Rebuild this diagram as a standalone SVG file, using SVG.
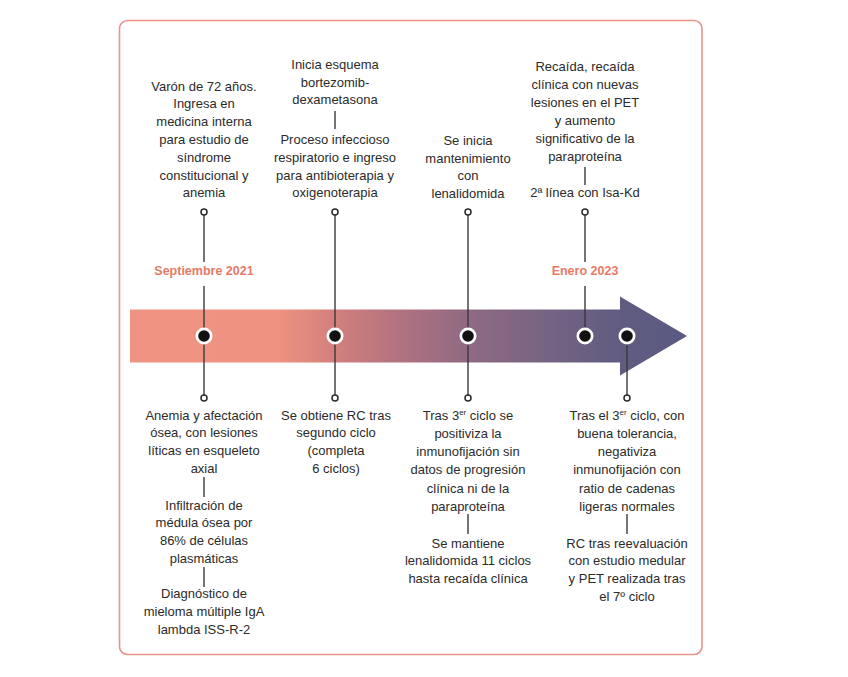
<svg xmlns="http://www.w3.org/2000/svg" width="848" height="677" viewBox="0 0 848 677">
<defs>
<linearGradient id="arrowGrad" gradientUnits="userSpaceOnUse" x1="130" y1="0" x2="688" y2="0">
<stop offset="0" stop-color="#ef9482"/>
<stop offset="0.264" stop-color="#ee9281"/>
<stop offset="0.367" stop-color="#d2807d"/>
<stop offset="0.484" stop-color="#b1727f"/>
<stop offset="0.606" stop-color="#8f6a83"/>
<stop offset="0.735" stop-color="#786483"/>
<stop offset="0.878" stop-color="#605c80"/>
<stop offset="1" stop-color="#5a5a80"/>
</linearGradient>
<style>
.t{font-family:"Liberation Sans",Arial,sans-serif;font-size:13px;fill:#2b2b2b;text-anchor:middle}
.d{font-family:"Liberation Sans",Arial,sans-serif;font-size:12.5px;font-weight:bold;fill:#e77a66;text-anchor:middle}
.sup{font-size:8px}
.ln{stroke:#3a3a3a;stroke-width:1.4;fill:none}
.sc{fill:#fff;stroke:#2b2b2b;stroke-width:1.5}
.dotw{fill:#fff}
.dotb{fill:#111}
</style>
</defs>
<rect x="0" y="0" width="848" height="677" fill="#fff"/>
<rect id="frame" x="119.5" y="20.5" width="582.5" height="634" rx="8" ry="8" fill="#fff" stroke="#e8948a" stroke-width="1.6"/>

<g id="arrow">
<path d="M130,309.5 L620,309.5 L620,296.5 L687,336 L620,375.5 L620,362.5 L130,362.5 Z" fill="url(#arrowGrad)"/>
</g>

<g id="connectors">
<line class="ln" x1="204" y1="215" x2="204" y2="262"/>
<line class="ln" x1="204" y1="286" x2="204" y2="336"/>
<line class="ln" x1="204" y1="336" x2="204" y2="395"/>
<line class="ln" x1="335" y1="215" x2="335" y2="336"/>
<line class="ln" x1="335" y1="336" x2="335" y2="395"/>
<line class="ln" x1="468" y1="215" x2="468" y2="336"/>
<line class="ln" x1="468" y1="336" x2="468" y2="395"/>
<line class="ln" x1="585" y1="215" x2="585" y2="262"/>
<line class="ln" x1="585" y1="286" x2="585" y2="336"/>
<line class="ln" x1="627" y1="336" x2="627" y2="395"/>
<line class="ln" x1="335" y1="111" x2="335" y2="129"/>
<line class="ln" x1="585" y1="167" x2="585" y2="185"/>
<line class="ln" x1="204" y1="477" x2="204" y2="497"/>
<line class="ln" x1="204" y1="567" x2="204" y2="587"/>
<line class="ln" x1="468" y1="514" x2="468" y2="534"/>
<line class="ln" x1="627" y1="514" x2="627" y2="534"/>
<circle class="sc" cx="204" cy="212" r="3"/>
<circle class="sc" cx="335" cy="212" r="3"/>
<circle class="sc" cx="468" cy="212" r="3"/>
<circle class="sc" cx="585" cy="212" r="3"/>
<circle class="sc" cx="204" cy="398" r="3"/>
<circle class="sc" cx="335" cy="398" r="3"/>
<circle class="sc" cx="468" cy="398" r="3"/>
<circle class="sc" cx="627" cy="398" r="3"/>
</g>

<g id="dot-1"><circle class="dotw" cx="204" cy="336" r="8.5"/><circle class="dotb" cx="204" cy="336" r="5.8"/></g>
<g id="dot-2"><circle class="dotw" cx="335" cy="336" r="8.5"/><circle class="dotb" cx="335" cy="336" r="5.8"/></g>
<g id="dot-3"><circle class="dotw" cx="468" cy="336" r="8.5"/><circle class="dotb" cx="468" cy="336" r="5.8"/></g>
<g id="dot-4"><circle class="dotw" cx="585" cy="336" r="8.5"/><circle class="dotb" cx="585" cy="336" r="5.8"/></g>
<g id="dot-5"><circle class="dotw" cx="627" cy="336" r="8.5"/><circle class="dotb" cx="627" cy="336" r="5.8"/></g>

<g id="date-sep2021"><text class="d" x="204" y="275">Septiembre 2021</text></g>
<g id="date-ene2023"><text class="d" x="585" y="275">Enero 2023</text></g>

<g id="top-1">
<text class="t" x="204" y="90.5">Varón de 72 años.</text>
<text class="t" x="204" y="108.3">Ingresa en</text>
<text class="t" x="204" y="126.1">medicina interna</text>
<text class="t" x="204" y="143.9">para estudio de</text>
<text class="t" x="204" y="161.7">síndrome</text>
<text class="t" x="204" y="179.5">constitucional y</text>
<text class="t" x="204" y="197.3">anemia</text>
</g>

<g id="top-2a">
<text class="t" x="335" y="68.8">Inicia esquema</text>
<text class="t" x="335" y="86.6">bortezomib-</text>
<text class="t" x="335" y="104.4">dexametasona</text>
</g>
<g id="top-2b">
<text class="t" x="335" y="144">Proceso infeccioso</text>
<text class="t" x="335" y="161.8">respiratorio e ingreso</text>
<text class="t" x="335" y="179.6">para antibioterapia y</text>
<text class="t" x="335" y="197.4">oxigenoterapia</text>
</g>

<g id="top-3">
<text class="t" x="468" y="145">Se inicia</text>
<text class="t" x="468" y="162.5">mantenimiento</text>
<text class="t" x="468" y="180">con</text>
<text class="t" x="468" y="197.5">lenalidomida</text>
</g>

<g id="top-4a">
<text class="t" x="585" y="71.2">Recaída, recaída</text>
<text class="t" x="585" y="89.2">clínica con nuevas</text>
<text class="t" x="585" y="107.2">lesiones en el PET</text>
<text class="t" x="585" y="125.2">y aumento</text>
<text class="t" x="585" y="143.2">significativo de la</text>
<text class="t" x="585" y="161.2">paraproteína</text>
</g>
<g id="top-4b">
<text class="t" x="585" y="197">2ª línea con Isa-Kd</text>
</g>

<g id="bottom-1a">
<text class="t" x="204" y="419.5">Anemia y afectación</text>
<text class="t" x="204" y="437.3">ósea, con lesiones</text>
<text class="t" x="204" y="455.1">líticas en esqueleto</text>
<text class="t" x="204" y="472.9">axial</text>
</g>
<g id="bottom-1b">
<text class="t" x="204" y="509.5">Infiltración de</text>
<text class="t" x="204" y="527.3">médula ósea por</text>
<text class="t" x="204" y="545.1">86% de células</text>
<text class="t" x="204" y="562.9">plasmáticas</text>
</g>
<g id="bottom-1c">
<text class="t" x="204" y="598">Diagnóstico de</text>
<text class="t" x="204" y="615.8">mieloma múltiple IgA</text>
<text class="t" x="204" y="633.6">lambda ISS-R-2</text>
</g>

<g id="bottom-2">
<text class="t" x="336" y="419.5">Se obtiene RC tras</text>
<text class="t" x="336" y="437.3">segundo ciclo</text>
<text class="t" x="336" y="455.1">(completa</text>
<text class="t" x="336" y="472.9">6 ciclos)</text>
</g>

<g id="bottom-3a">
<text class="t" x="468" y="419.5">Tras 3<tspan class="sup" dy="-4.5">er</tspan><tspan dy="4.5"> ciclo se</tspan></text>
<text class="t" x="468" y="437.8">positiviza la</text>
<text class="t" x="468" y="456.1">inmunofijación sin</text>
<text class="t" x="468" y="474.4">datos de progresión</text>
<text class="t" x="468" y="492.7">clínica ni de la</text>
<text class="t" x="468" y="511">paraproteína</text>
</g>
<g id="bottom-3b">
<text class="t" x="468" y="547.5">Se mantiene</text>
<text class="t" x="468" y="565.3">lenalidomida 11 ciclos</text>
<text class="t" x="468" y="583.1">hasta recaída clínica</text>
</g>

<g id="bottom-5a">
<text class="t" x="627" y="419.5">Tras el 3<tspan class="sup" dy="-4.5">er</tspan><tspan dy="4.5"> ciclo, con</tspan></text>
<text class="t" x="627" y="437.8">buena tolerancia,</text>
<text class="t" x="627" y="456.1">negativiza</text>
<text class="t" x="627" y="474.4">inmunofijación con</text>
<text class="t" x="627" y="492.7">ratio de cadenas</text>
<text class="t" x="627" y="511">ligeras normales</text>
</g>
<g id="bottom-5b">
<text class="t" x="627" y="547.5">RC tras reevaluación</text>
<text class="t" x="627" y="565.3">con estudio medular</text>
<text class="t" x="627" y="583.1">y PET realizada tras</text>
<text class="t" x="627" y="600.9">el 7º ciclo</text>
</g>
</svg>
